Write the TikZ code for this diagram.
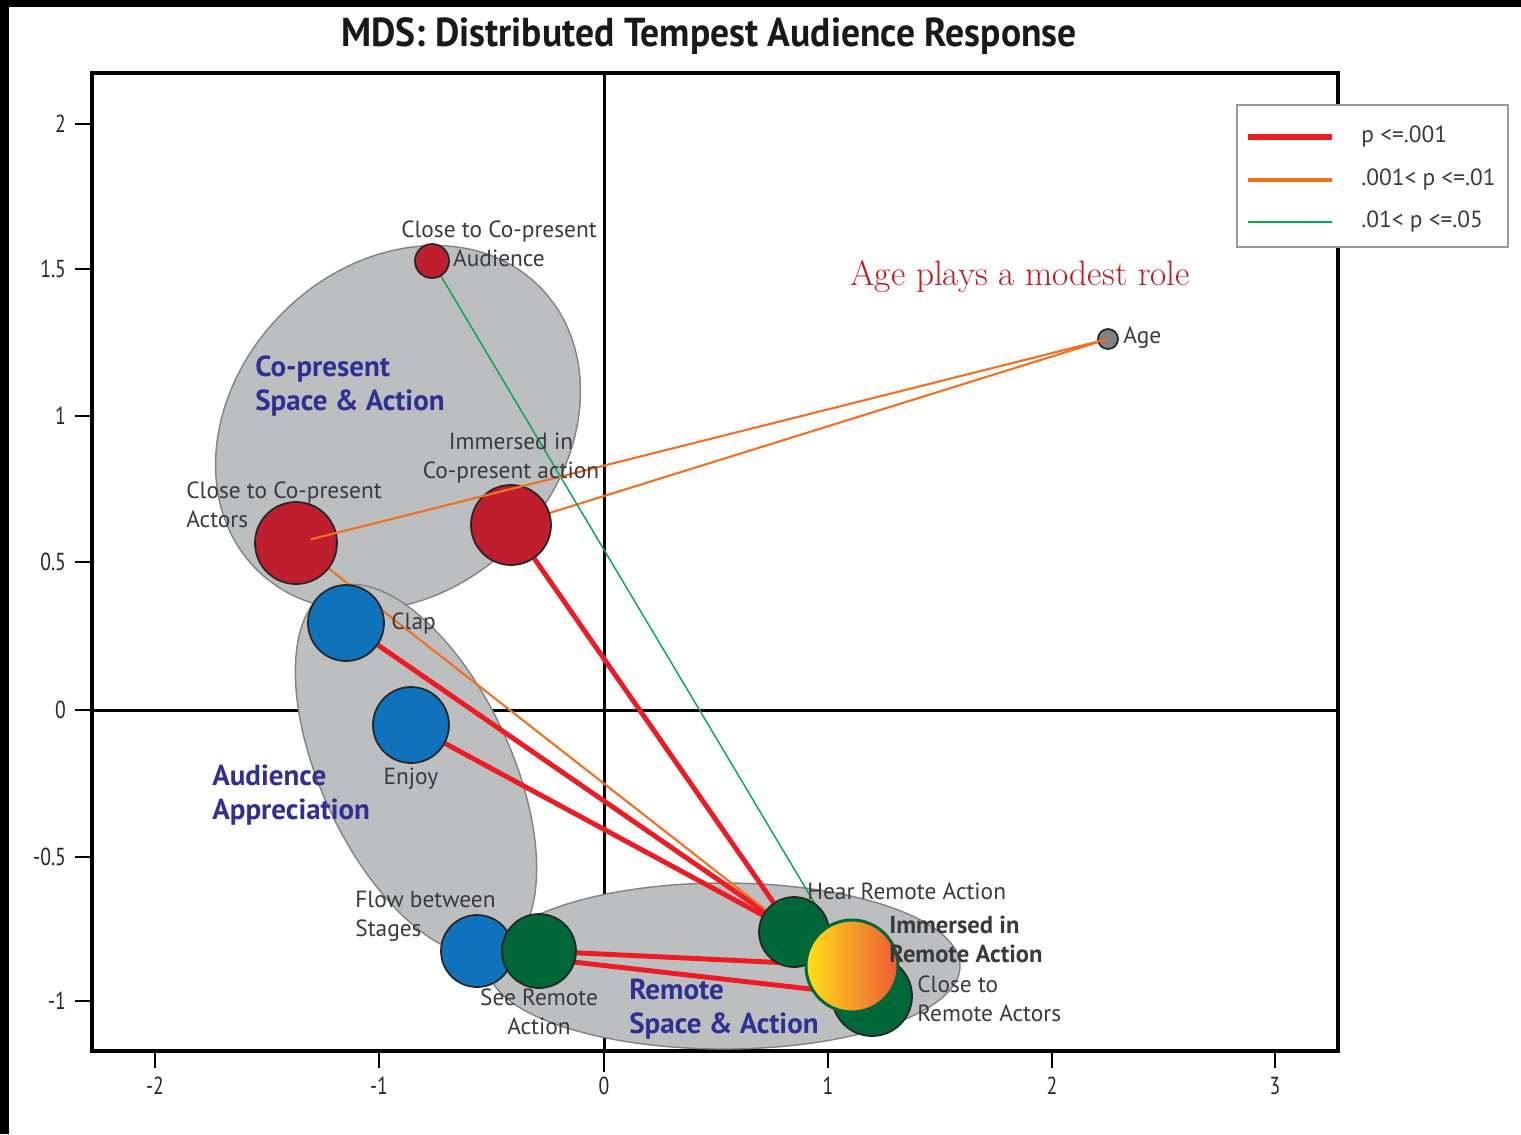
\documentclass[tikz,border=0pt]{standalone}
\usepackage{fontspec}
\setsansfont{PT Sans}
\newfontfamily\titlefont[FakeStretch=0.93]{PT Sans}
\newfontfamily\tickfont[FakeStretch=0.8]{PT Sans}
\usepackage{tikz}
\usetikzlibrary{calc,positioning}

\definecolor{dotred}{HTML}{BE1E2D}
\definecolor{dotblue}{HTML}{0F72BA}
\definecolor{dotgreen}{HTML}{006838}
\definecolor{agegrey}{HTML}{808285}
\definecolor{blobgrey}{HTML}{BCBEC0}
\definecolor{blobedge}{HTML}{808285}
\definecolor{linkred}{HTML}{ED1C24}
\definecolor{linkorange}{HTML}{F37021}
\definecolor{linkgreen}{HTML}{00A651}
\definecolor{groupblue}{HTML}{2E3192}
\definecolor{labelgrey}{HTML}{3A3A3C}
\definecolor{notered}{HTML}{C4161C}
\definecolor{hotyellow}{HTML}{FFE017}
\definecolor{hotorange}{HTML}{F7A533}
\definecolor{hotred}{HTML}{EE5A35}

\pgfdeclarelayer{back}
\pgfsetlayers{back,main}

\tikzset{
  ball/.style={circle, inner sep=0pt, draw=black!85, line width=1pt, minimum size=2*#1*0.02cm},
  redball/.style={ball=#1, fill=dotred},
  blueball/.style={ball=#1, fill=dotblue},
  greenball/.style={ball=#1, fill=dotgreen},
  blob/.style={fill=blobgrey, draw=blobedge, line width=0.8pt},
  sig1/.style={draw=linkred, line width=2.8pt},
  sig2/.style={draw=linkorange, line width=1.2pt},
  sig3/.style={draw=linkgreen, line width=0.8pt},
  plabel/.style={font=\sffamily\fontsize{13.3}{16.5}\selectfont, text=labelgrey, inner sep=0pt},
  grouplabel/.style={font=\sffamily\bfseries\fontsize{16.5}{19.4}\selectfont, text=groupblue, align=left, inner sep=0pt},
  ticklabel/.style={font=\tickfont\fontsize{14}{16}\selectfont, text=black!85, inner sep=0.16cm}
}

\begin{document}
\begin{tikzpicture}[x=0.02cm, y=-0.02cm]
  \useasboundingbox (0,0) rectangle (1521,1134);

  % Black frame at left and top.
  \fill[black] (0,0) rectangle (1521,7);
  \fill[black] (0,0) rectangle (9,1134);

  % Title.
  \node[font=\titlefont\bfseries\fontsize{23}{27}\selectfont, text=black!90] (title) at (709,36)
  {MDS: Distributed Tempest Audience Response};

  % Place the variables as balls.
  \node[redball=17] (cpaud) at (432,261) {};
  \node[redball=41] (cpact) at (296,543) {};
  \node[redball=40] (icp) at (511,525) {};
  \node[blueball=38] (clap) at (346,623) {};
  \node[blueball=38] (enjoy) at (411,725) {};
  \node[blueball=36] (flow) at (477,951) {};
  \node[greenball=37] (see) at (539,951) {};
  \node[greenball=35] (hear) at (794,932) {};
  \node[greenball=40] (crem) at (872,996) {};
  \node[ball=46, draw=dotgreen, line width=1.7pt, left color=hotyellow, middle color=hotorange,
        right color=hotred] (irem) at (852,966) {};
  \node[ball=10, fill=agegrey] (age) at (1108,339) {};

  \begin{pgfonlayer}{back}
    % Draw plot frame and the two axes.
    \draw[line width=1.8pt] (92,73) rectangle (1338,1051);
    \draw[line width=1.7pt] (604,73) -- (604,1051);
    \draw[line width=1.7pt] (92,710) -- (1338,710);

    % Ticks on the left.
    \draw[line width=1.2pt] (92,124) -- (75,124) node[ticklabel, left] {2};
    \draw[line width=1.2pt] (92,269) -- (75,269) node[ticklabel, left] {1.5};
    \draw[line width=1.2pt] (92,416) -- (75,416) node[ticklabel, left] {1};
    \draw[line width=1.2pt] (92,562) -- (75,562) node[ticklabel, left] {0.5};
    \draw[line width=1.2pt] (92,710) -- (75,710) node[ticklabel, left] {0};
    \draw[line width=1.2pt] (92,857) -- (75,857) node[ticklabel, left] {-0.5};
    \draw[line width=1.2pt] (92,1001) -- (75,1001) node[ticklabel, left] {-1};

    % Ticks at the bottom.
    \draw[line width=1.2pt] (155,1051) -- (155,1068) node[ticklabel, below] {-2};
    \draw[line width=1.2pt] (379,1051) -- (379,1068) node[ticklabel, below] {-1};
    \draw[line width=1.2pt] (604,1051) -- (604,1072) node[ticklabel, below, yshift=0.08cm] {0};
    \draw[line width=1.2pt] (828,1051) -- (828,1068) node[ticklabel, below] {1};
    \draw[line width=1.2pt] (1052,1051) -- (1052,1068) node[ticklabel, below] {2};
    \draw[line width=1.2pt] (1275,1051) -- (1275,1068) node[ticklabel, below] {3};

    % Grey clusters.
    \draw[blob, rotate around={45:(398,428)}] (398,428) ellipse [x radius=200, y radius=163];
    \draw[blob, rotate around={-65:(416,770)}] (416,770) ellipse [x radius=200, y radius=95];
    \draw[blob] (724,966) ellipse [x radius=236, y radius=83];

    % Significant links.
    \draw[sig1] (icp) -- (hear);
    \draw[sig1] (clap) -- (hear);
    \draw[sig1] (enjoy) -- (hear);
    \draw[sig1] (see) -- (irem);
    \draw[sig1] (flow) -- (crem);
    \draw[sig2] (cpact) -- (hear);
    \draw[sig2] (icp) -- (age.center);
    \draw[sig3] (cpaud) -- (irem);
  \end{pgfonlayer}

  % Age link drawn over the actors ball.
  \draw[sig2, shorten <=0.3cm] (cpact.center) -- (age.center);

  % Variable labels.
  \node[plabel, align=center] (lcpaud) at (499,244) {Close to Co-present\\Audience};
  \node[plabel, align=center] (licp) at (511,458) {Immersed in\\Co-present action};
  \node[plabel, align=left, anchor=west] (lcpact) at (186,505) {Close to Co-present\\Actors};
  \node[plabel, anchor=west] (lclap) at (391,624) {Clap};
  \node[plabel] (lenjoy) at (411,779) {Enjoy};
  \node[plabel, align=left, anchor=west] (lflow) at (355,916) {Flow between\\Stages};
  \node[plabel, align=center] (lsee) at (539,1012) {See Remote\\Action};
  \node[plabel, anchor=west] (lhear) at (807,891) {Hear Remote Action};
  \node[plabel, align=left, anchor=west, font=\sffamily\bfseries\fontsize{14}{16.5}\selectfont]
    (lirem) at (889,939) {Immersed in\\Remote Action};
  \node[plabel, align=left, anchor=west] (lcrem) at (917,999) {Close to\\Remote Actors};
  \node[plabel, anchor=west] (lage) at (1123,338) {Age};

  % Cluster names.
  \node[grouplabel, anchor=west] (gcp) at (255,386) {Co-present\\Space \& Action};
  \node[grouplabel, anchor=west] (gaud) at (212,795) {Audience\\Appreciation};
  \node[grouplabel, anchor=west] (grem) at (629,1009) {Remote\\Space \& Action};

  % Note on age.
  \node[font=\rmfamily\fontsize{20.1}{24}\selectfont, text=notered, anchor=west, inner sep=0pt]
    (note) at (850,277) {Age plays a modest role};

  % Legend.
  \draw[draw=black!40, fill=white, line width=1pt] (1237,105) rectangle (1508,247);
  \draw[sig1, line width=3.4pt] (1248,137) -- (1332,137);
  \draw[sig2, line width=2pt] (1248,180) -- (1332,180);
  \draw[sig3, line width=1pt] (1248,222) -- (1332,222);
  \node[plabel, anchor=west] (key1) at (1361,137) {p <=.001};
  \node[plabel, anchor=west] (key2) at (1361,180) {.001< p <=.01};
  \node[plabel, anchor=west] (key3) at (1361,222) {.01< p <=.05};
\end{tikzpicture}
\end{document}
